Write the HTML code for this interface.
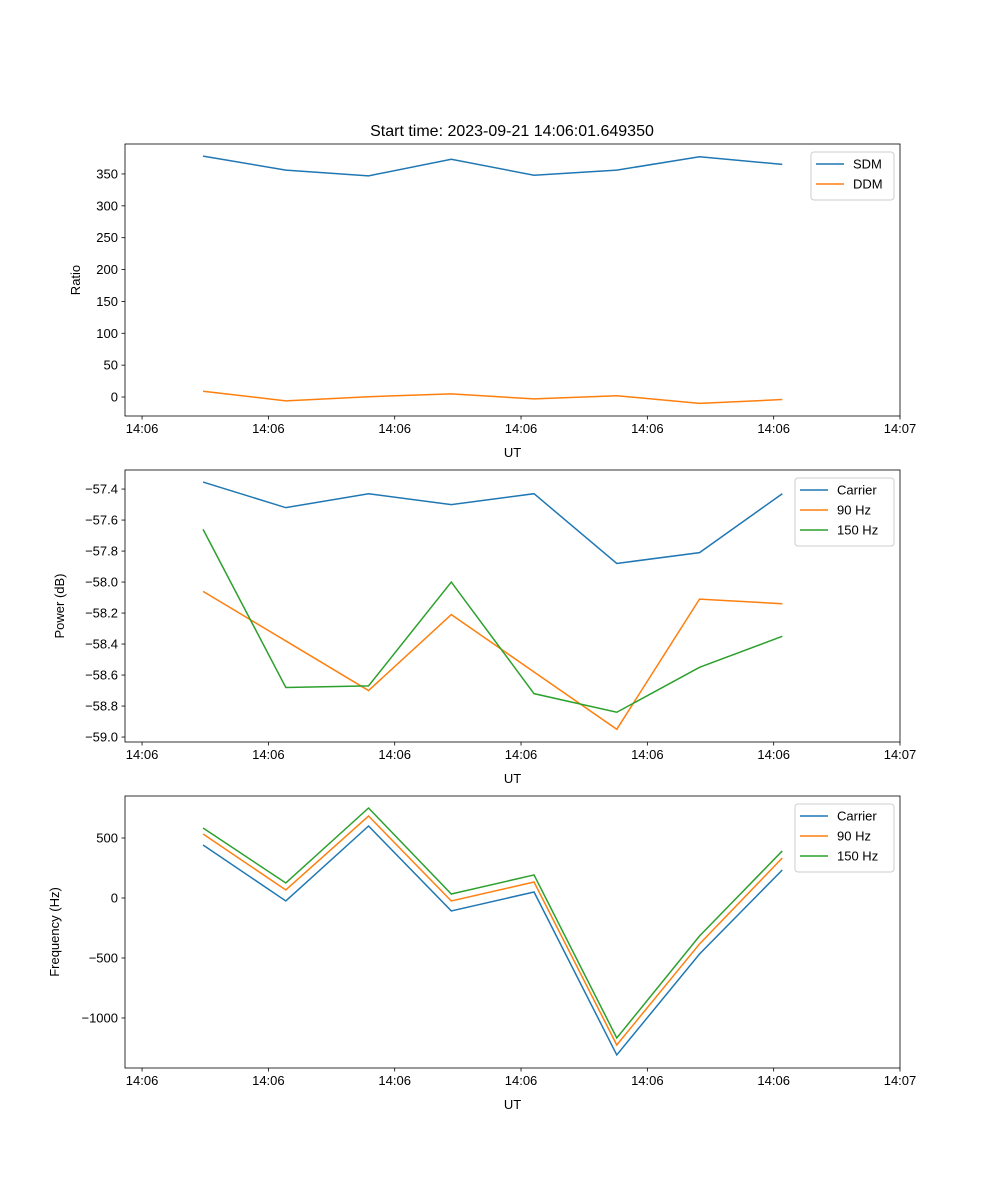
<!DOCTYPE html>
<html><head><meta charset="utf-8"><style>
body{margin:0;background:#fff}
svg{display:block;font-family:"Liberation Sans","DejaVu Sans",sans-serif}
</style></head><body>
<svg id="fig" width="1000" height="1200" viewBox="0 0 1000 1200"></svg>
<script>
const times=[4.83,11.38,17.93,24.48,31.03,37.58,44.13,50.68];
const xTickVals=[0,10,20,30,40,50,60];
const xTickLabels=["14:06","14:06","14:06","14:06","14:06","14:06","14:07"];
const sdm=[378,356,347,373,348,356,377,365];
const ddm=[9,-6,0.5,5,-3,2,-10,-4];
const ratioTicks=[0,50,100,150,200,250,300,350];
const pCarrier=[-57.355,-57.52,-57.43,-57.50,-57.43,-57.88,-57.81,-57.43];
const p90=[-58.06,-58.38,-58.70,-58.21,-58.58,-58.95,-58.11,-58.14];
const p150=[-57.66,-58.68,-58.67,-58.00,-58.72,-58.84,-58.55,-58.35];
const powerTicks=[-59.0,-58.8,-58.6,-58.4,-58.2,-58.0,-57.8,-57.6,-57.4];
const fCarrier=[442,-25,600,-108,50,-1308,-467,233];
const f90=[533,67,683,-25,133,-1225,-383,333];
const f150=[583,125,750,33,192,-1167,-317,392];
const freqTicks=[-1000,-500,0,500];

const NS="http://www.w3.org/2000/svg";
const svg=document.getElementById('fig');
function mk(tag,attrs,parent,text){const e=document.createElementNS(NS,tag);for(const k in attrs)e.setAttribute(k,attrs[k]);if(text!==undefined)e.textContent=text;(parent||svg).appendChild(e);return e;}
const L=125,R=900,xmin=-1.35,xmax=60;
const xs=v=>L+(v-xmin)/(xmax-xmin)*(R-L);
const C=['#1f77b4','#ff7f0e','#2ca02c'];

function panel(name,top,bot,ymin,ymax,yticks,fmt,ylabel,series,names,legW){
  const g=mk('g',{});
  
  
  const ys=v=>bot-(v-ymin)/(ymax-ymin)*(bot-top);
  series.forEach((s,i)=>{
    const p=mk('polyline',{points:s.map((v,j)=>xs(times[j])+','+ys(v)).join(' '),fill:'none',stroke:C[i],'stroke-width':1.5},g);
    
    
  });
  const fr=mk('rect',{x:L,y:top,width:R-L,height:bot-top,fill:'none',stroke:'#000','stroke-width':0.8},g);
  
  
  xTickVals.forEach((v,i)=>{
    const x=xs(v);
    mk('line',{x1:x,x2:x,y1:bot,y2:bot+3.5,stroke:'#000','stroke-width':0.8},g);
    const t=mk('text',{x:x,y:bot+17,'font-size':13,'text-anchor':'middle'},g,xTickLabels[i]);
    
    
  });
  yticks.forEach(v=>{
    const y=ys(v);
    mk('line',{x1:L-3.5,x2:L,y1:y,y2:y,stroke:'#000','stroke-width':0.8},g);
    const t=mk('text',{x:L-7,y:y+4.5,'font-size':13,'text-anchor':'end'},g,fmt(v));
    
    
  });
  const xl=mk('text',{x:(L+R)/2,y:bot+41,'font-size':13,'text-anchor':'middle'},g,'UT');
  
  
  const yx=name==='ratio-panel'?80:name==='power-panel'?64:59;
  const yl=mk('text',{x:yx,y:(top+bot)/2,'font-size':13,'text-anchor':'middle',transform:`rotate(-90 ${yx} ${(top+bot)/2})`},g,ylabel);
  
  
  const lx=R-6-legW, ly=top+8, h=names.length*20+8;
  const lg=mk('g',{},g);
  
  
  mk('rect',{x:lx,y:ly,width:legW,height:h,rx:3,fill:'#fff',stroke:'#ccc','stroke-width':1},lg);
  names.forEach((n,i)=>{
    const yy=ly+12+i*20;
    mk('line',{x1:lx+5,x2:lx+33,y1:yy,y2:yy,stroke:C[i],'stroke-width':1.5},lg);
    const t=mk('text',{x:lx+42,y:yy+4.5,'font-size':13},lg,n);
    
    
  });
}
const title=mk('text',{x:512,y:136,'font-size':16,'text-anchor':'middle'},svg,'Start time: 2023-09-21 14:06:01.649350');


panel('ratio-panel',144,416,-29.8,397,ratioTicks,v=>String(v),'Ratio',[sdm,ddm],['SDM','DDM'],83);
panel('power-panel',470,742,-59.032,-57.277,powerTicks,v=>'\u2212'+Math.abs(v).toFixed(1),'Power (dB)',[pCarrier,p90,p150],['Carrier','90 Hz','150 Hz'],99);
panel('frequency-panel',796,1068,-1417,850,freqTicks,v=>v<0?'\u2212'+Math.abs(v):String(v),'Frequency (Hz)',[fCarrier,f90,f150],['Carrier','90 Hz','150 Hz'],99);
</script>
</body></html>
